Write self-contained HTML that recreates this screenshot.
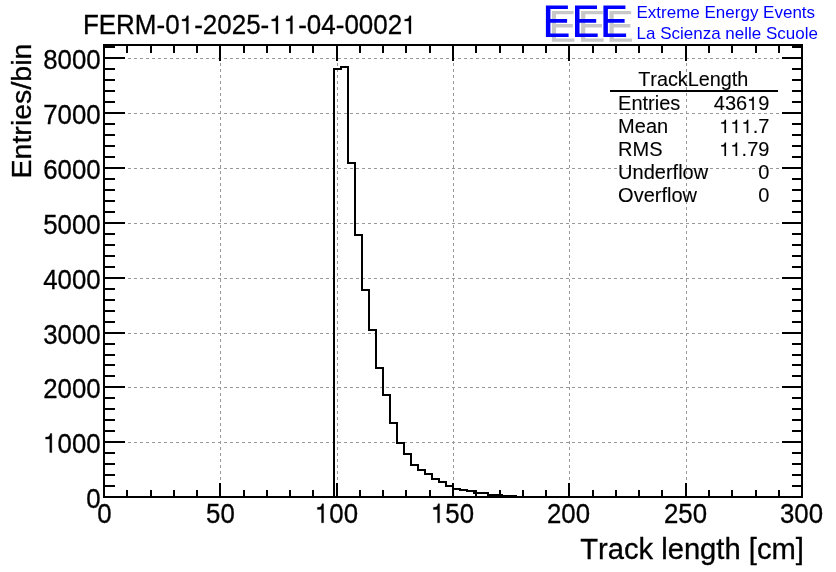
<!DOCTYPE html>
<html><head><meta charset="utf-8"><title>TrackLength</title>
<style>html,body{margin:0;padding:0;background:#fff;}body{width:836px;height:572px;overflow:hidden;}svg{display:block;will-change:transform;}text{font-family:"Liberation Sans",sans-serif;font-kerning:none;font-variant-ligatures:none;}</style>
</head><body>
<svg width="836" height="572" viewBox="0 0 836 572">
<rect x="0" y="0" width="836" height="572" fill="#ffffff"/>
<g stroke="#999999" stroke-width="1" stroke-dasharray="3,3" shape-rendering="crispEdges" fill="none">
<line x1="220.5" y1="498" x2="220.5" y2="45"/>
<line x1="337.5" y1="498" x2="337.5" y2="45"/>
<line x1="453.5" y1="498" x2="453.5" y2="45"/>
<line x1="569.5" y1="498" x2="569.5" y2="45"/>
<line x1="686.5" y1="498" x2="686.5" y2="45"/>
<line x1="104" y1="442.5" x2="802" y2="442.5"/>
<line x1="104" y1="387.5" x2="802" y2="387.5"/>
<line x1="104" y1="333.5" x2="802" y2="333.5"/>
<line x1="104" y1="278.5" x2="802" y2="278.5"/>
<line x1="104" y1="223.5" x2="802" y2="223.5"/>
<line x1="104" y1="168.5" x2="802" y2="168.5"/>
<line x1="104" y1="113.5" x2="802" y2="113.5"/>
<line x1="104" y1="58.5" x2="802" y2="58.5"/>
</g>
<path fill="#c8c8c8" d="M551.9,10.9h21.7v3.3h-17.5v9.8h16.7v3.6h-16.7v10.8h18.3v3.4h-22.5z"/>
<path fill="#c8c8c8" d="M581.1,10.9h21.7v3.3h-17.5v9.8h16.7v3.6h-16.7v10.8h18.3v3.4h-22.5z"/>
<path fill="#c8c8c8" d="M609.5,10.9h21.7v3.3h-17.5v9.8h16.7v3.6h-16.7v10.8h18.3v3.4h-22.5z"/>
<path fill="#0000ff" d="M545.9,5.4h22.0v3.6h-17.5v10.0h16.7v3.8h-16.7v10.6h18.2v3.6h-22.7z"/>
<path fill="#0000ff" d="M575.0,5.4h22.0v3.6h-17.5v10.0h16.7v3.8h-16.7v10.6h18.2v3.6h-22.7z"/>
<path fill="#0000ff" d="M603.4,5.4h22.0v3.6h-17.5v10.0h16.7v3.8h-16.7v10.6h18.2v3.6h-22.7z"/>
<text transform="translate(636.5,17.7)" font-size="17" fill="#0000ff">Extreme Energy Events</text>
<text transform="translate(636.5,38.5)" font-size="17" fill="#0000ff">La Scienza nelle Scuole</text>
<g transform="translate(82.9,34) scale(1,1.035)" font-size="26.0" fill="#000" stroke="#000" stroke-width="0.3"><text x="0.00" y="0">FERM-0</text><path transform="translate(96.78,0) scale(0.01270,-0.01270)" d="M520 10V980H190V1124C420 1124 510 1150 565 1385H685V10Z" stroke-width="23.6"/><text x="111.24" y="0">-2025-</text><path transform="translate(186.39,0) scale(0.01270,-0.01270)" d="M520 10V980H190V1124C420 1124 510 1150 565 1385H685V10Z" stroke-width="23.6"/><path transform="translate(200.85,0) scale(0.01270,-0.01270)" d="M520 10V980H190V1124C420 1124 510 1150 565 1385H685V10Z" stroke-width="23.6"/><text x="215.31" y="0">-04-0002</text><path transform="translate(319.39,0) scale(0.01270,-0.01270)" d="M520 10V980H190V1124C420 1124 510 1150 565 1385H685V10Z" stroke-width="23.6"/></g>
<path d="M104,497 L334,497 L334,69 L341,69 L341,67 L348,67 L348,163 L355,163 L355,235 L362,235 L362,290 L369,290 L369,330 L376,330 L376,368 L383,368 L383,395 L390,395 L390,423 L397,423 L397,443 L404,443 L404,454 L411,454 L411,465 L418,465 L418,470 L425,470 L425,474 L432,474 L432,479 L439,479 L439,482 L446,482 L446,486 L453,486 L453,489 L460,489 L460,490 L467,490 L467,491 L474,491 L474,493 L481,493 L481,493 L488,493 L488,495 L502,495 L502,496 L516,496 L516,497 L802,497" fill="none" stroke="#000" stroke-width="2" stroke-linejoin="miter" stroke-linecap="square" shape-rendering="crispEdges"/>
<g stroke="#000" stroke-width="2" shape-rendering="crispEdges" fill="none" stroke-linecap="butt">
<rect x="104" y="45" width="698" height="452"/>
<line x1="104" y1="497" x2="104" y2="483"/>
<line x1="104" y1="45" x2="104" y2="61"/>
<line x1="127" y1="497" x2="127" y2="490"/>
<line x1="127" y1="45" x2="127" y2="53"/>
<line x1="151" y1="497" x2="151" y2="490"/>
<line x1="151" y1="45" x2="151" y2="53"/>
<line x1="174" y1="497" x2="174" y2="490"/>
<line x1="174" y1="45" x2="174" y2="53"/>
<line x1="197" y1="497" x2="197" y2="490"/>
<line x1="197" y1="45" x2="197" y2="53"/>
<line x1="220" y1="497" x2="220" y2="483"/>
<line x1="220" y1="45" x2="220" y2="61"/>
<line x1="244" y1="497" x2="244" y2="490"/>
<line x1="244" y1="45" x2="244" y2="53"/>
<line x1="267" y1="497" x2="267" y2="490"/>
<line x1="267" y1="45" x2="267" y2="53"/>
<line x1="290" y1="497" x2="290" y2="490"/>
<line x1="290" y1="45" x2="290" y2="53"/>
<line x1="313" y1="497" x2="313" y2="490"/>
<line x1="313" y1="45" x2="313" y2="53"/>
<line x1="337" y1="497" x2="337" y2="483"/>
<line x1="337" y1="45" x2="337" y2="61"/>
<line x1="360" y1="497" x2="360" y2="490"/>
<line x1="360" y1="45" x2="360" y2="53"/>
<line x1="383" y1="497" x2="383" y2="490"/>
<line x1="383" y1="45" x2="383" y2="53"/>
<line x1="406" y1="497" x2="406" y2="490"/>
<line x1="406" y1="45" x2="406" y2="53"/>
<line x1="430" y1="497" x2="430" y2="490"/>
<line x1="430" y1="45" x2="430" y2="53"/>
<line x1="453" y1="497" x2="453" y2="483"/>
<line x1="453" y1="45" x2="453" y2="61"/>
<line x1="476" y1="497" x2="476" y2="490"/>
<line x1="476" y1="45" x2="476" y2="53"/>
<line x1="500" y1="497" x2="500" y2="490"/>
<line x1="500" y1="45" x2="500" y2="53"/>
<line x1="523" y1="497" x2="523" y2="490"/>
<line x1="523" y1="45" x2="523" y2="53"/>
<line x1="546" y1="497" x2="546" y2="490"/>
<line x1="546" y1="45" x2="546" y2="53"/>
<line x1="569" y1="497" x2="569" y2="483"/>
<line x1="569" y1="45" x2="569" y2="61"/>
<line x1="593" y1="497" x2="593" y2="490"/>
<line x1="593" y1="45" x2="593" y2="53"/>
<line x1="616" y1="497" x2="616" y2="490"/>
<line x1="616" y1="45" x2="616" y2="53"/>
<line x1="639" y1="497" x2="639" y2="490"/>
<line x1="639" y1="45" x2="639" y2="53"/>
<line x1="662" y1="497" x2="662" y2="490"/>
<line x1="662" y1="45" x2="662" y2="53"/>
<line x1="686" y1="497" x2="686" y2="483"/>
<line x1="686" y1="45" x2="686" y2="61"/>
<line x1="709" y1="497" x2="709" y2="490"/>
<line x1="709" y1="45" x2="709" y2="53"/>
<line x1="732" y1="497" x2="732" y2="490"/>
<line x1="732" y1="45" x2="732" y2="53"/>
<line x1="756" y1="497" x2="756" y2="490"/>
<line x1="756" y1="45" x2="756" y2="53"/>
<line x1="779" y1="497" x2="779" y2="490"/>
<line x1="779" y1="45" x2="779" y2="53"/>
<line x1="802" y1="497" x2="802" y2="483"/>
<line x1="802" y1="45" x2="802" y2="61"/>
<line x1="104" y1="497" x2="125" y2="497"/>
<line x1="802" y1="497" x2="782" y2="497"/>
<line x1="104" y1="486" x2="115" y2="486"/>
<line x1="802" y1="486" x2="792" y2="486"/>
<line x1="104" y1="475" x2="115" y2="475"/>
<line x1="802" y1="475" x2="792" y2="475"/>
<line x1="104" y1="464" x2="115" y2="464"/>
<line x1="802" y1="464" x2="792" y2="464"/>
<line x1="104" y1="453" x2="115" y2="453"/>
<line x1="802" y1="453" x2="792" y2="453"/>
<line x1="104" y1="442" x2="125" y2="442"/>
<line x1="802" y1="442" x2="782" y2="442"/>
<line x1="104" y1="431" x2="115" y2="431"/>
<line x1="802" y1="431" x2="792" y2="431"/>
<line x1="104" y1="420" x2="115" y2="420"/>
<line x1="802" y1="420" x2="792" y2="420"/>
<line x1="104" y1="409" x2="115" y2="409"/>
<line x1="802" y1="409" x2="792" y2="409"/>
<line x1="104" y1="398" x2="115" y2="398"/>
<line x1="802" y1="398" x2="792" y2="398"/>
<line x1="104" y1="387" x2="125" y2="387"/>
<line x1="802" y1="387" x2="782" y2="387"/>
<line x1="104" y1="376" x2="115" y2="376"/>
<line x1="802" y1="376" x2="792" y2="376"/>
<line x1="104" y1="365" x2="115" y2="365"/>
<line x1="802" y1="365" x2="792" y2="365"/>
<line x1="104" y1="355" x2="115" y2="355"/>
<line x1="802" y1="355" x2="792" y2="355"/>
<line x1="104" y1="344" x2="115" y2="344"/>
<line x1="802" y1="344" x2="792" y2="344"/>
<line x1="104" y1="333" x2="125" y2="333"/>
<line x1="802" y1="333" x2="782" y2="333"/>
<line x1="104" y1="322" x2="115" y2="322"/>
<line x1="802" y1="322" x2="792" y2="322"/>
<line x1="104" y1="311" x2="115" y2="311"/>
<line x1="802" y1="311" x2="792" y2="311"/>
<line x1="104" y1="300" x2="115" y2="300"/>
<line x1="802" y1="300" x2="792" y2="300"/>
<line x1="104" y1="289" x2="115" y2="289"/>
<line x1="802" y1="289" x2="792" y2="289"/>
<line x1="104" y1="278" x2="125" y2="278"/>
<line x1="802" y1="278" x2="782" y2="278"/>
<line x1="104" y1="267" x2="115" y2="267"/>
<line x1="802" y1="267" x2="792" y2="267"/>
<line x1="104" y1="256" x2="115" y2="256"/>
<line x1="802" y1="256" x2="792" y2="256"/>
<line x1="104" y1="245" x2="115" y2="245"/>
<line x1="802" y1="245" x2="792" y2="245"/>
<line x1="104" y1="234" x2="115" y2="234"/>
<line x1="802" y1="234" x2="792" y2="234"/>
<line x1="104" y1="223" x2="125" y2="223"/>
<line x1="802" y1="223" x2="782" y2="223"/>
<line x1="104" y1="212" x2="115" y2="212"/>
<line x1="802" y1="212" x2="792" y2="212"/>
<line x1="104" y1="201" x2="115" y2="201"/>
<line x1="802" y1="201" x2="792" y2="201"/>
<line x1="104" y1="190" x2="115" y2="190"/>
<line x1="802" y1="190" x2="792" y2="190"/>
<line x1="104" y1="179" x2="115" y2="179"/>
<line x1="802" y1="179" x2="792" y2="179"/>
<line x1="104" y1="168" x2="125" y2="168"/>
<line x1="802" y1="168" x2="782" y2="168"/>
<line x1="104" y1="157" x2="115" y2="157"/>
<line x1="802" y1="157" x2="792" y2="157"/>
<line x1="104" y1="146" x2="115" y2="146"/>
<line x1="802" y1="146" x2="792" y2="146"/>
<line x1="104" y1="135" x2="115" y2="135"/>
<line x1="802" y1="135" x2="792" y2="135"/>
<line x1="104" y1="124" x2="115" y2="124"/>
<line x1="802" y1="124" x2="792" y2="124"/>
<line x1="104" y1="113" x2="125" y2="113"/>
<line x1="802" y1="113" x2="782" y2="113"/>
<line x1="104" y1="102" x2="115" y2="102"/>
<line x1="802" y1="102" x2="792" y2="102"/>
<line x1="104" y1="91" x2="115" y2="91"/>
<line x1="802" y1="91" x2="792" y2="91"/>
<line x1="104" y1="80" x2="115" y2="80"/>
<line x1="802" y1="80" x2="792" y2="80"/>
<line x1="104" y1="69" x2="115" y2="69"/>
<line x1="802" y1="69" x2="792" y2="69"/>
<line x1="104" y1="58" x2="125" y2="58"/>
<line x1="802" y1="58" x2="782" y2="58"/>
<line x1="104" y1="47" x2="115" y2="47"/>
<line x1="802" y1="47" x2="792" y2="47"/>
</g>
<text transform="translate(104.4,522.9) scale(1,1.095)" font-size="25.8" fill="#000" stroke="#000" stroke-width="0.3" text-anchor="middle">0</text>
<text transform="translate(220.4,522.9) scale(1,1.095)" font-size="25.8" fill="#000" stroke="#000" stroke-width="0.3" text-anchor="middle">50</text>
<g transform="translate(336.5,522.9) scale(1,1.095)" font-size="25.8" fill="#000" stroke="#000" stroke-width="0.3"><path transform="translate(-21.52,0) scale(0.01260,-0.01260)" d="M520 10V980H190V1124C420 1124 510 1150 565 1385H685V10Z" stroke-width="23.8"/><text x="-7.17" y="0">00</text></g>
<g transform="translate(452.5,522.9) scale(1,1.095)" font-size="25.8" fill="#000" stroke="#000" stroke-width="0.3"><path transform="translate(-21.52,0) scale(0.01260,-0.01260)" d="M520 10V980H190V1124C420 1124 510 1150 565 1385H685V10Z" stroke-width="23.8"/><text x="-7.17" y="0">50</text></g>
<text transform="translate(568.5,522.9) scale(1,1.095)" font-size="25.8" fill="#000" stroke="#000" stroke-width="0.3" text-anchor="middle">200</text>
<text transform="translate(685.5,522.9) scale(1,1.095)" font-size="25.8" fill="#000" stroke="#000" stroke-width="0.3" text-anchor="middle">250</text>
<text transform="translate(801.5,522.9) scale(1,1.095)" font-size="25.8" fill="#000" stroke="#000" stroke-width="0.3" text-anchor="middle">300</text>
<text transform="translate(100.6,507.7) scale(1,1.1)" font-size="25.8" fill="#000" stroke="#000" stroke-width="0.3" text-anchor="end">0</text>
<g transform="translate(100.6,452.7) scale(1,1.1)" font-size="25.8" fill="#000" stroke="#000" stroke-width="0.3"><path transform="translate(-57.39,0) scale(0.01260,-0.01260)" d="M520 10V980H190V1124C420 1124 510 1150 565 1385H685V10Z" stroke-width="23.8"/><text x="-43.05" y="0">000</text></g>
<text transform="translate(100.6,397.7) scale(1,1.1)" font-size="25.8" fill="#000" stroke="#000" stroke-width="0.3" text-anchor="end">2000</text>
<text transform="translate(100.6,343.7) scale(1,1.1)" font-size="25.8" fill="#000" stroke="#000" stroke-width="0.3" text-anchor="end">3000</text>
<text transform="translate(100.6,288.7) scale(1,1.1)" font-size="25.8" fill="#000" stroke="#000" stroke-width="0.3" text-anchor="end">4000</text>
<text transform="translate(100.6,233.7) scale(1,1.1)" font-size="25.8" fill="#000" stroke="#000" stroke-width="0.3" text-anchor="end">5000</text>
<text transform="translate(100.6,178.7) scale(1,1.1)" font-size="25.8" fill="#000" stroke="#000" stroke-width="0.3" text-anchor="end">6000</text>
<text transform="translate(100.6,123.7) scale(1,1.1)" font-size="25.8" fill="#000" stroke="#000" stroke-width="0.3" text-anchor="end">7000</text>
<text transform="translate(100.6,68.7) scale(1,1.1)" font-size="25.8" fill="#000" stroke="#000" stroke-width="0.3" text-anchor="end">8000</text>
<text transform="translate(803.9,558.9) scale(1,1.04)" font-size="29.2" fill="#000" stroke="#000" stroke-width="0.3" text-anchor="end">Track length [cm]</text>
<text transform="translate(31.4,43.5) rotate(-90) scale(1,0.97)" font-size="28.6" fill="#000" stroke="#000" stroke-width="0.3" text-anchor="end">Entries/bin</text>
<text transform="translate(693.3,85.7) scale(1,1.03)" font-size="19.85" fill="#000" stroke="#000" stroke-width="0.1" text-anchor="middle">TrackLength</text>
<text transform="translate(618.1,110.0)" font-size="20.0" fill="#000" stroke="#000" stroke-width="0.1">Entries</text>
<g transform="translate(769.4,110.2)" font-size="20.0" fill="#000" stroke="#000" stroke-width="0.1"><text x="-55.62" y="0">436</text><path transform="translate(-22.25,0) scale(0.00977,-0.00977)" d="M520 10V980H190V1124C420 1124 510 1150 565 1385H685V10Z" stroke-width="10.2"/><text x="-11.12" y="0">9</text></g>
<text transform="translate(618.1,133.0)" font-size="20.0" fill="#000" stroke="#000" stroke-width="0.1">Mean</text>
<g transform="translate(769.4,133.2)" font-size="20.0" fill="#000" stroke="#000" stroke-width="0.1"><path transform="translate(-50.05,0) scale(0.00977,-0.00977)" d="M520 10V980H190V1124C420 1124 510 1150 565 1385H685V10Z" stroke-width="10.2"/><path transform="translate(-38.93,0) scale(0.00977,-0.00977)" d="M520 10V980H190V1124C420 1124 510 1150 565 1385H685V10Z" stroke-width="10.2"/><path transform="translate(-27.80,0) scale(0.00977,-0.00977)" d="M520 10V980H190V1124C420 1124 510 1150 565 1385H685V10Z" stroke-width="10.2"/><text x="-16.68" y="0">.7</text></g>
<text transform="translate(618.1,155.8)" font-size="20.0" fill="#000" stroke="#000" stroke-width="0.1">RMS</text>
<g transform="translate(769.4,156.0)" font-size="20.0" fill="#000" stroke="#000" stroke-width="0.1"><path transform="translate(-50.05,0) scale(0.00977,-0.00977)" d="M520 10V980H190V1124C420 1124 510 1150 565 1385H685V10Z" stroke-width="10.2"/><path transform="translate(-38.93,0) scale(0.00977,-0.00977)" d="M520 10V980H190V1124C420 1124 510 1150 565 1385H685V10Z" stroke-width="10.2"/><text x="-27.80" y="0">.79</text></g>
<text transform="translate(618.1,178.7)" font-size="20.0" fill="#000" stroke="#000" stroke-width="0.1">Underflow</text>
<text transform="translate(769.4,178.89999999999998)" font-size="20.0" fill="#000" stroke="#000" stroke-width="0.1" text-anchor="end">0</text>
<text transform="translate(618.1,201.7)" font-size="20.0" fill="#000" stroke="#000" stroke-width="0.1">Overflow</text>
<text transform="translate(769.4,201.89999999999998)" font-size="20.0" fill="#000" stroke="#000" stroke-width="0.1" text-anchor="end">0</text>
<line x1="610" y1="91" x2="778" y2="91" stroke="#000" stroke-width="2" shape-rendering="crispEdges"/>
</svg></body></html>
